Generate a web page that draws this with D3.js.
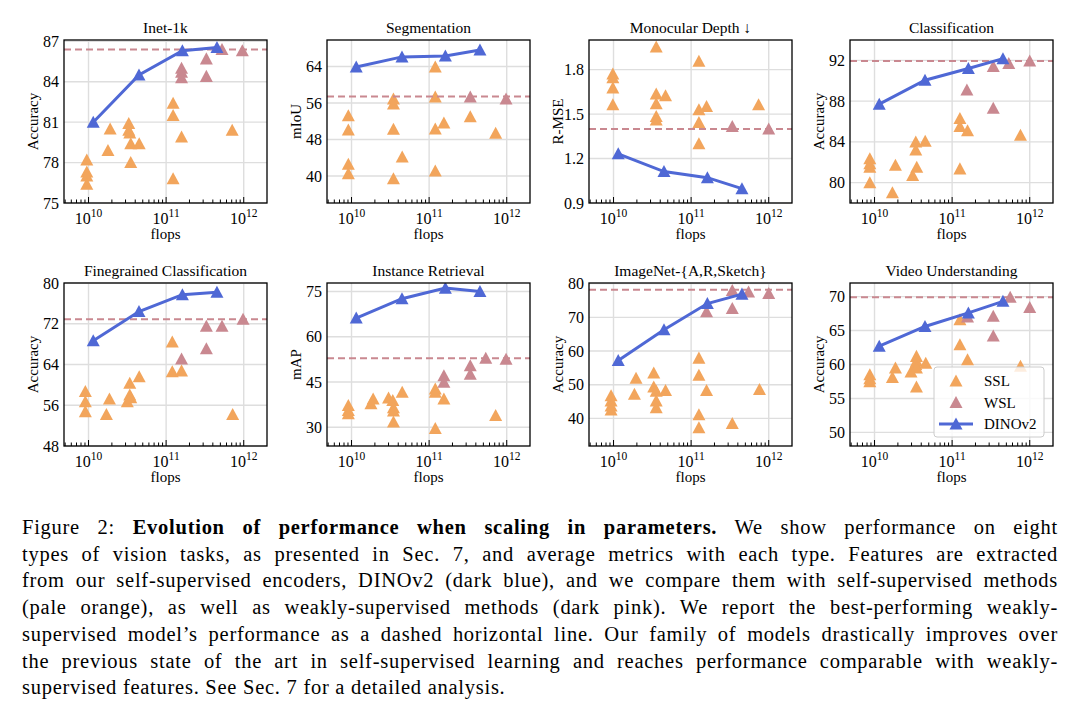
<!DOCTYPE html>
<html><head><meta charset="utf-8">
<script src="https://cdn.jsdelivr.net/npm/d3@7"></script>
<style>body{margin:0;background:#fff}svg{display:block}</style>
</head><body>
<svg id="c" width="1080" height="716"></svg>
<script>
// ---------------- data (flops, value) ----------------
const dinoFlops = [1.15e10, 4.47e10, 1.62e11, 4.52e11];

const inetSSL = [[9.5e9,78.2],[9.5e9,77.3],[9.5e9,77.0],[9.5e9,76.4],[1.78e10,78.9],[1.9e10,80.5],[3.3e10,80.9],[3.3e10,80.4],[3.4e10,80.2],[3.5e10,79.4],[3.5e10,78.0],[4.5e10,79.4],[1.23e11,82.4],[1.23e11,81.5],[1.58e11,79.9],[1.23e11,76.8],[7.1e11,80.4]];
const inetWSL = [[1.58e11,85.0],[1.58e11,84.7],[1.58e11,84.3],[3.3e11,85.7],[3.3e11,84.4],[5.25e11,86.4],[9.6e11,86.3]];
const inetBest = 86.4;
const inetDINO = [81.0, 84.5, 86.3, 86.55];

const segSSL = [[9.1e9,53.2],[9.1e9,50.1],[9.1e9,42.6],[9.1e9,40.5],[3.47e10,56.9],[3.47e10,55.8],[3.47e10,50.25],[3.47e10,39.4],[4.5e10,44.2],[1.2e11,63.9],[1.2e11,57.3],[1.2e11,50.3],[1.2e11,41.1],[1.55e11,51.6],[3.39e11,53.0],[7.2e11,49.4]];
const segWSL = [[3.39e11,57.3],[9.8e11,56.9]];
const segBest = 57.45;
const segDINO = [63.9, 66.1, 66.3, 67.6];

const depthSSL = [[9.8e9,1.77],[9.8e9,1.745],[9.8e9,1.676],[9.8e9,1.563],[3.55e10,1.953],[3.55e10,1.635],[3.55e10,1.57],[3.55e10,1.484],[3.55e10,1.46],[4.68e10,1.624],[1.26e11,1.856],[1.26e11,1.529],[1.26e11,1.444],[1.26e11,1.30],[1.58e11,1.552],[7.4e11,1.563]];
const depthWSL = [[3.39e11,1.416],[1e12,1.40]];
const depthBest = 1.40;
const depthDINO = [1.232, 1.112, 1.071, 0.997];

const clsSSL = [[8.7e9,82.35],[8.7e9,81.85],[8.7e9,81.5],[8.7e9,80.0],[1.7e10,79.0],[1.86e10,81.7],[3.1e10,80.7],[3.4e10,84.0],[3.4e10,83.2],[3.5e10,81.5],[4.5e10,84.07],[1.26e11,86.3],[1.26e11,85.5],[1.26e11,81.35],[1.58e11,85.1],[7.6e11,84.66]];
const clsWSL = [[1.55e11,89.1],[3.39e11,91.4],[3.39e11,87.3],[5.37e11,91.7],[1e12,91.93]];
const clsBest = 91.93;
const clsDINO = [87.7, 90.05, 91.2, 92.17];

const fineSSL = [[9.1e9,58.7],[9.1e9,56.7],[9.1e9,54.75],[1.7e10,54.2],[1.86e10,57.25],[3.16e10,56.7],[3.4e10,60.3],[3.4e10,58.0],[3.5e10,57.5],[4.5e10,61.6],[1.2e11,68.4],[1.2e11,62.6],[1.58e11,62.75],[7.2e11,54.2]];
const fineWSL = [[1.58e11,65.1],[3.3e11,71.5],[3.3e11,67.1],[5.25e11,71.5],[9.8e11,72.9]];
const fineBest = 72.9;
const fineDINO = [68.65, 74.4, 77.7, 78.2];

const retSSL = [[9.1e9,37.2],[9.1e9,35.6],[9.1e9,34.5],[1.78e10,37.8],[1.9e10,39.4],[3.0e10,39.7],[3.4e10,38.9],[3.47e10,36.5],[3.47e10,35.4],[3.47e10,31.75],[4.5e10,41.6],[1.2e11,42.7],[1.2e11,41.6],[1.2e11,29.6],[1.55e11,39.4],[7.2e11,33.9]];
const retWSL = [[1.55e11,47.1],[1.55e11,44.9],[3.39e11,50.4],[3.39e11,47.6],[5.37e11,52.9],[9.8e11,52.55]];
const retBest = 52.9;
const retDINO = [66.2, 72.6, 76.1, 75.0];

const arsSSL = [[9.3e9,46.7],[9.3e9,45.2],[9.3e9,43.7],[9.3e9,42.5],[1.86e10,47.2],[1.95e10,51.9],[3.3e10,53.5],[3.3e10,49.3],[3.55e10,48.1],[3.55e10,45.2],[3.55e10,43.2],[4.68e10,48.3],[1.26e11,57.9],[1.26e11,52.8],[1.26e11,41.1],[1.26e11,37.2],[1.58e11,48.3],[3.39e11,38.5],[7.6e11,48.6]];
const arsWSL = [[1.58e11,71.7],[3.39e11,78.0],[3.39e11,72.6],[5.5e11,77.5],[1e12,77.1]];
const arsBest = 78.2;
const arsDINO = [57.2, 66.3, 74.1, 76.9];

const vidSSL = [[8.7e9,58.5],[8.7e9,57.9],[8.7e9,57.45],[1.7e10,58.1],[1.86e10,59.5],[2.95e10,58.9],[3.47e10,61.2],[3.47e10,60.5],[3.4e10,60.0],[3.47e10,59.5],[3.47e10,56.7],[4.57e10,60.2],[1.26e11,66.6],[1.26e11,62.9],[1.58e11,60.7],[7.6e11,59.75]];
const vidWSL = [[1.58e11,67.0],[3.39e11,67.1],[3.39e11,64.2],[5.6e11,69.9],[1e12,68.4]];
const vidBest = 69.9;
const vidDINO = [62.7, 65.6, 67.6, 69.3];

const titles = ["Inet-1k","Segmentation","Monocular Depth \u2193","Classification","Finegrained Classification","Instance Retrieval","ImageNet-{A,R,Sketch}","Video Understanding"];
const yLabels = ["Accuracy","mIoU","R-MSE","Accuracy","Accuracy","mAP","Accuracy","Accuracy"];
const yDomains = [[75,87.1],[34.1,69.8],[0.9,2.0],[78,94],[48,80],[23.8,77.8],[31.8,80.2],[48,72]];
const yTicks = [[75,78,81,84,87],[40,48,56,64],[0.9,1.2,1.5,1.8],[80,84,88,92],[48,56,64,72,80],[30,45,60,75],[40,50,60,70,80],[50,55,60,65,70]];
const xMajor = [1e10, 1e11, 1e12];
const legendLabels = ["SSL","WSL","DINOv2"];

const sslSets = [inetSSL, segSSL, depthSSL, clsSSL, fineSSL, retSSL, arsSSL, vidSSL];
const wslSets = [inetWSL, segWSL, depthWSL, clsWSL, fineWSL, retWSL, arsWSL, vidWSL];
const bestVals = [inetBest, segBest, depthBest, clsBest, fineBest, retBest, arsBest, vidBest];
const dinoSets = [inetDINO, segDINO, depthDINO, clsDINO, fineDINO, retDINO, arsDINO, vidDINO];

const captionLines = [
  [["Figure 2: ",false],["Evolution of performance when scaling in parameters.",true],[" We show performance on eight",false]],
  [["types of vision tasks, as presented in Sec. 7, and average metrics with each type. Features are extracted",false]],
  [["from our self-supervised encoders, DINOv2 (dark blue), and we compare them with self-supervised methods",false]],
  [["(pale orange), as well as weakly-supervised methods (dark pink). We report the best-performing weakly-",false]],
  [["supervised model\u2019s performance as a dashed horizontal line. Our family of models drastically improves over",false]],
  [["the previous state of the art in self-supervised learning and reaches performance comparable with weakly-",false]],
  [["supervised features. See Sec. 7 for a detailed analysis.",false]]
];

// ---------------- styles ----------------
const C_SSL = "#F2A55C", C_WSL = "#C98890", C_DINO = "#4F68D5", C_BEST = "#C98890";
const FONT = "'Liberation Serif','Times New Roman',serif";
const colX = [64, 327, 589, 850], rowY = [40, 283], W = 203, H = 163;

const svg = d3.select("#c");
svg.append("rect").attr("width",1080).attr("height",716).attr("fill","#fff");
const defs = svg.append("defs");

function tri(s){ return `M0,${-s}L${s},${s*0.85}L${-s},${s*0.85}Z`; }

titles.forEach((title, i) => {
  const L = colX[i % 4], T = rowY[Math.floor(i / 4)];
  const x = d3.scaleLog().domain([Math.pow(10, 9.684), Math.pow(10, 12.3)]).range([L, L + W]);
  const y = d3.scaleLinear().domain(yDomains[i]).range([T + H, T]);
  const g = svg.append("g");

  defs.append("clipPath").attr("id", "cp" + i).append("rect")
    .attr("x", L).attr("y", T).attr("width", W).attr("height", H);

  const grid = g.append("g").attr("stroke", "#dedede").attr("stroke-width", 1.4);
  xMajor.forEach(v => grid.append("line").attr("x1", x(v)).attr("x2", x(v)).attr("y1", T).attr("y2", T + H));
  yTicks[i].forEach(v => grid.append("line").attr("x1", L).attr("x2", L + W).attr("y1", y(v)).attr("y2", y(v)));

  const m = g.append("g").attr("clip-path", `url(#cp${i})`);
  m.selectAll(".ssl").data(sslSets[i]).join("path")
    .attr("d", tri(6.5)).attr("fill", C_SSL)
    .attr("transform", d => `translate(${x(d[0])},${y(d[1])})`);
  m.selectAll(".wsl").data(wslSets[i]).join("path")
    .attr("d", tri(6.5)).attr("fill", C_WSL)
    .attr("transform", d => `translate(${x(d[0])},${y(d[1])})`);
  m.append("line").attr("x1", L).attr("x2", L + W)
    .attr("y1", y(bestVals[i])).attr("y2", y(bestVals[i]))
    .attr("stroke", C_BEST).attr("stroke-width", 2).attr("stroke-dasharray", "7,4");
  const dd = dinoSets[i].map((v, k) => [dinoFlops[k], v]);
  m.append("path").datum(dd)
    .attr("d", d3.line().x(d => x(d[0])).y(d => y(d[1])))
    .attr("fill", "none").attr("stroke", C_DINO).attr("stroke-width", 3);
  m.selectAll(".dino").data(dd).join("path")
    .attr("d", tri(6.5)).attr("fill", C_DINO)
    .attr("transform", d => `translate(${x(d[0])},${y(d[1])})`);

  const ticks = g.append("g").attr("stroke", "#000").attr("stroke-width", 1);
  const dom = x.domain();
  for (let e = 9; e <= 12; e++) {
    for (let k = 1; k <= 9; k++) {
      const v = k * Math.pow(10, e);
      if (v < dom[0] || v > dom[1]) continue;
      const len = k === 1 ? 6 : 3.5;
      ticks.append("line").attr("x1", x(v)).attr("x2", x(v)).attr("y1", T + H).attr("y2", T + H - len);
    }
  }

  g.append("rect").attr("x", L).attr("y", T).attr("width", W).attr("height", H)
    .attr("fill", "none").attr("stroke", "#000").attr("stroke-width", 1.3);

  xMajor.forEach(v => {
    const t = g.append("text").attr("x", x(v)).attr("y", T + H + 21)
      .attr("text-anchor", "middle").attr("font-family", FONT).attr("font-size", 16).attr("fill", "#000");
    t.append("tspan").text("10");
    t.append("tspan").attr("dy", -7).attr("font-size", 11.5).text(String(Math.round(Math.log10(v))));
  });
  const fmt = i === 2 ? d3.format(".1f") : d3.format("d");
  yTicks[i].forEach(v => {
    g.append("text").attr("x", L - 5).attr("y", y(v) + 5.5)
      .attr("text-anchor", "end").attr("font-family", FONT).attr("font-size", 16).attr("fill", "#000")
      .text(fmt(v));
  });
  g.append("text").attr("x", L + W / 2).attr("y", T - 7).attr("text-anchor", "middle")
    .attr("font-family", FONT).attr("font-size", 15.5).attr("fill", "#000").text(title);
  g.append("text").attr("x", L + W / 2).attr("y", T + H + 36).attr("text-anchor", "middle")
    .attr("font-family", FONT).attr("font-size", 15).attr("fill", "#000").text("flops");
  g.append("text").attr("transform", `translate(${L - 26},${T + H / 2}) rotate(-90)`)
    .attr("text-anchor", "middle").attr("font-family", FONT).attr("font-size", 15).attr("fill", "#000")
    .text(yLabels[i]);

  if (i === 7) {
    const lg = svg.append("g");
    lg.append("rect").attr("x", 934).attr("y", 367).attr("width", 110).attr("height", 70).attr("rx", 3)
      .attr("fill", "#fff").attr("fill-opacity", 0.8).attr("stroke", "#cccccc").attr("stroke-width", 1);
    const cols = [C_SSL, C_WSL, C_DINO];
    legendLabels.forEach((lab, k) => {
      const yy = 381 + k * 21.5;
      if (k === 2) lg.append("line").attr("x1", 939).attr("x2", 973).attr("y1", yy).attr("y2", yy)
        .attr("stroke", C_DINO).attr("stroke-width", 3);
      lg.append("path").attr("d", tri(6.5)).attr("fill", cols[k]).attr("transform", `translate(956,${yy})`);
      lg.append("text").attr("x", 984).attr("y", yy + 5).attr("font-family", FONT).attr("font-size", 15)
        .attr("fill", "#000").text(lab);
    });
  }
});

// ---------------- caption ----------------
const capL = 22, capR = 1058;
const capTexts = [];
captionLines.forEach((segs, li) => {
  const t = svg.append("text").attr("x", capL).attr("y", 534 + li * 26.7)
    .attr("font-family", FONT).attr("font-size", 20.5).attr("fill", "#000")
    .attr("xml:space", "preserve");
  segs.forEach(([s, b]) => t.append("tspan").attr("font-weight", b ? "bold" : "normal").text(s));
  capTexts.push(t);
});
const ref = capTexts[1];
const refStr = captionLines[1].map(s => s[0]).join("");
const refW = ref.node().getComputedTextLength();
const ls = Math.max(0, ((capR - capL) - refW) * 0.4 / refStr.length);
capTexts.forEach(t => t.attr("letter-spacing", ls));
capTexts.forEach((t, li) => {
  if (li === captionLines.length - 1) return;
  const str = captionLines[li].map(s => s[0]).join("");
  const w = t.node().getComputedTextLength();
  const spaces = str.split(" ").length - 1;
  t.attr("word-spacing", ((capR - capL) - w) / spaces);
});
</script>
</body></html>
